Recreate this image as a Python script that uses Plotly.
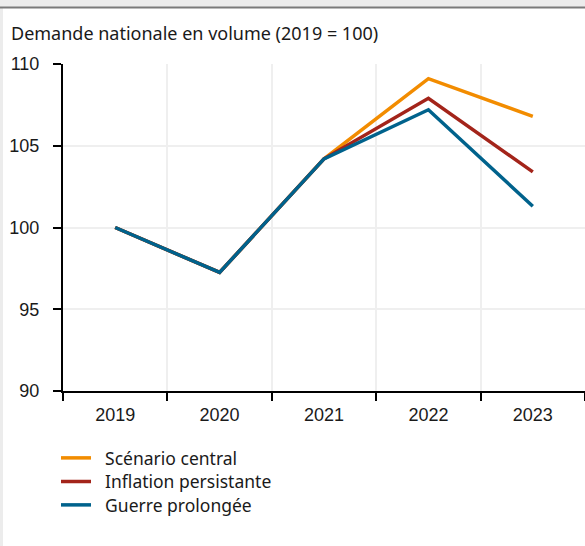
import plotly.graph_objects as go

# data
years = ["2019", "2020", "2021", "2022", "2023"]
central = [100, 97.25, 104.2, 109.1, 106.8]
inflation = [100, 97.25, 104.2, 107.9, 103.4]
guerre = [100, 97.25, 104.2, 107.2, 101.3]

names = ["Scénario central", "Inflation persistante", "Guerre prolongée"]
colors = ["#F28C00", "#A3241A", "#00628C"]

W, H = 585, 546
ML, MR, MT, MB = 63, 0, 64, 155
pw = W - ML - MR
ph = H - MT - MB

# pixel -> paper helpers
def px_x(p):
    return (p - ML) / pw

def px_y(p):
    return 1 - (p - MT) / ph

fig = go.Figure()
legend_ids = ["legend", "legend2", "legend3"]
for name, vals, col, lg in zip(names, [central, inflation, guerre], colors, legend_ids):
    fig.add_trace(go.Scatter(x=years, y=vals, mode="lines", name="\u00a0\u00a0" + name,
                             legend=lg, line=dict(color=col, width=3.5)))

# grey page frame (top band and left strip)
fig.add_shape(type="rect", xref="paper", yref="paper", x0=px_x(0), x1=px_x(W),
              y0=px_y(0), y1=px_y(7), fillcolor="#ececec", line_width=0, layer="below")
fig.add_shape(type="line", xref="paper", yref="paper", x0=px_x(0), x1=px_x(W),
              y0=px_y(7.5), y1=px_y(7.5), line=dict(color="#7a7a7a", width=2))
fig.add_shape(type="rect", xref="paper", yref="paper", x0=px_x(0), x1=px_x(3),
              y0=px_y(H), y1=px_y(8), fillcolor="#ececec", line_width=0, layer="below")

fig.add_annotation(text="Demande nationale en volume (2019 = 100)", xref="paper", yref="paper",
                   x=px_x(9), y=px_y(33), xanchor="left", yanchor="middle", showarrow=False,
                   font=dict(family="Noto Sans", size=18, color="#1a1a1a"))

tickfont = dict(family="Liberation Sans", size=18, color="#1a1a1a")
fig.update_xaxes(type="category", range=[-0.5, 4.5], tickson="boundaries",
                 showline=True, linecolor="black", linewidth=2,
                 ticks="outside", ticklen=8, tickwidth=2, tickcolor="black",
                 showgrid=True, gridcolor="#efefef", gridwidth=1.5,
                 ticklabelstandoff=6, tickfont=tickfont)
fig.update_yaxes(range=[90, 110], dtick=5, tick0=90,
                 showline=True, linecolor="black", linewidth=2,
                 ticks="outside", ticklen=8, tickwidth=2, tickcolor="black",
                 showgrid=True, gridcolor="#efefef", gridwidth=1.5, zeroline=False,
                 ticklabelstandoff=10, tickfont=tickfont)

legend_style = dict(xanchor="left", yanchor="middle", bgcolor="rgba(0,0,0,0)",
                    itemwidth=30, font=dict(family="Noto Sans", size=17.5, color="#1a1a1a"))
row_y = [458, 481.5, 505]
fig.update_layout(
    width=W, height=H,
    margin=dict(l=ML, r=MR, t=MT, b=MB),
    paper_bgcolor="white", plot_bgcolor="white",
    showlegend=True,
    legend=dict(x=px_x(56), y=px_y(row_y[0]), **legend_style),
    legend2=dict(x=px_x(56), y=px_y(row_y[1]), **legend_style),
    legend3=dict(x=px_x(56), y=px_y(row_y[2]), **legend_style),
)

fig.write_html("out.html", config={"displayModeBar": False},
               post_script="document.body.style.margin='0px';")
